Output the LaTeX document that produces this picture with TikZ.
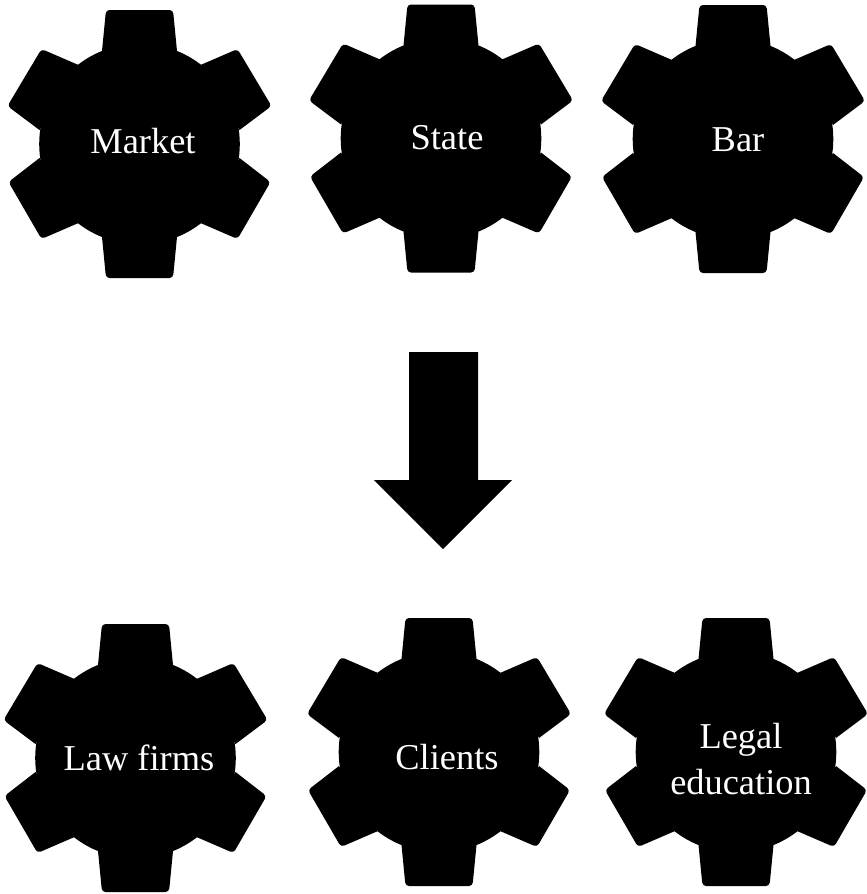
\documentclass[tikz,border=0pt]{standalone}
\usepackage{fontspec}
\setmainfont{Liberation Serif}
\tikzset{
  gearfill/.style={fill=black,draw=none},
  gearlabel/.style={text=white,font=\fontsize{36.4}{46}\selectfont,align=center,inner sep=0pt,anchor=center},
}
\newcommand{\gearshape}[2]{%
  \begin{scope}[shift={(#1,#2)}]
    \fill (0,0) circle[radius=100.3pt];
    \fill[gearfill] (-37.5,-93) [rounded corners=3.5pt] -- (-33.5,-134) -- (33.5,-134) [sharp corners] -- (37.5,-93) -- cycle;
    \fill[gearfill] (37.5,93) [rounded corners=3.5pt] -- (33.5,134) -- (-33.5,134) [sharp corners] -- (-37.5,93) -- cycle;
    \fill[gearfill] (61,-79) [rounded corners=3.5pt] -- (98,-95) -- (132,-38) [sharp corners] -- (100,-14) -- cycle;
    \fill[gearfill] (-61,-79) [rounded corners=3.5pt] -- (-98,-95) -- (-132,-38) [sharp corners] -- (-100,-14) -- cycle;
    \fill[gearfill] (61,79) [rounded corners=3.5pt] -- (98,95) -- (131,38) [sharp corners] -- (100,14) -- cycle;
    \fill[gearfill] (-61,79) [rounded corners=3.5pt] -- (-98,95) -- (-131,38) [sharp corners] -- (-100,14) -- cycle;
  \end{scope}}
\begin{document}
\begin{tikzpicture}[x=1pt,y=-1pt]
  \useasboundingbox (0,0) rectangle (867,894);
  \gearshape{139.5}{144}
  \gearshape{441}{138.5}
  \gearshape{733}{139}
  \gearshape{135.5}{758}
  \gearshape{439}{752}
  \gearshape{736}{752}
  \node[gearlabel] (market) at (143,141) {Market};
  \node[gearlabel] (state) at (447,138) {State};
  \node[gearlabel] (bar) at (738,140) {Bar};
  \node[gearlabel] (firms) at (139,758) {Law firms};
  \node[gearlabel] (clients) at (447,757) {Clients};
  \node[gearlabel] (legal) at (741,759) {Legal\\education};
  \fill[black] (409,352) -- (478,352) -- (478,480) -- (512,480) -- (443,549) -- (374,480) -- (409,480) -- cycle;
\end{tikzpicture}
\end{document}
